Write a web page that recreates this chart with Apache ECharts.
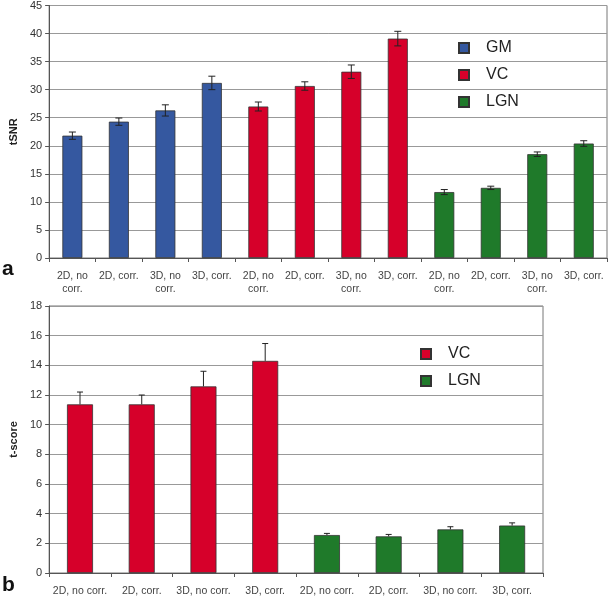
<!DOCTYPE html>
<html><head><meta charset="utf-8">
<script src="https://cdn.jsdelivr.net/npm/echarts@6/dist/echarts.min.js"></script>
<style>html,body{margin:0;padding:0;background:#fff}#c{width:608px;height:597px}</style>
</head><body><div id="c"></div>
<script>
// ---- data ----
const groupsTop = ['GM','VC','LGN'];
const condsTop = ['2D, no\ncorr.','2D, corr.','3D, no\ncorr.','3D, corr.'];
const gmSNR = [21.8, 24.3, 26.3, 31.2];
const gmSNRErr = [0.65, 0.65, 1.0, 1.2];
const vcSNR = [27.0, 30.65, 33.2, 39.1];
const vcSNRErr = [0.8, 0.75, 1.2, 1.3];
const lgnSNR = [11.75, 12.5, 18.5, 20.4];
const lgnSNRErr = [0.45, 0.3, 0.4, 0.5];

const groupsBot = ['VC','LGN'];
const condsBot = ['2D, no corr.','2D, corr.','3D, no corr.','3D, corr.'];
const vcT = [11.37, 11.37, 12.58, 14.3];
const vcTErr = [0.83, 0.63, 1.02, 1.17];
const lgnT = [2.56, 2.47, 2.94, 3.2];
const lgnTErr = [0.11, 0.13, 0.18, 0.18];

const colors = {GM:'#3558a0', VC:'#d6002a', LGN:'#1f7a2a'};

// ---- build ----
const topCats = [].concat(condsTop, condsTop, condsTop);
const botCats = [].concat(condsBot, condsBot);
function pad(arr, before, after){
  return Array(before).fill('-').concat(arr, Array(after).fill('-'));
}
const topVals = [gmSNR, vcSNR, lgnSNR];
const topErrs = [gmSNRErr, vcSNRErr, lgnSNRErr];
const botVals = [vcT, lgnT];
const botErrs = [vcTErr, lgnTErr];

const series = [];
groupsTop.forEach((g,i)=>{
  series.push({type:'bar', name:g, xAxisIndex:0, yAxisIndex:0, barWidth:20, barGap:'-100%',
    data: pad(topVals[i], i*4, (2-i)*4),
    itemStyle:{color:colors[g], borderColor:'#333', borderWidth:0.8}});
});
groupsBot.forEach((g,i)=>{
  series.push({type:'bar', name:g, xAxisIndex:1, yAxisIndex:1, barWidth:26, barGap:'-100%',
    data: pad(botVals[i], i*4, (1-i)*4),
    itemStyle:{color:colors[g], borderColor:'#333', borderWidth:0.8}});
});
// error bars
const errTop = [];
topVals.forEach((v,i)=>v.forEach((y,j)=>errTop.push([i*4+j, y, topErrs[i][j]])));
const errBot = [];
botVals.forEach((v,i)=>v.forEach((y,j)=>errBot.push([i*4+j, y, botErrs[i][j]])));
function errRender(both, cap){
  return function(params, api){
    const x = api.value(0), y = api.value(1), e = api.value(2);
    const hi = api.coord([x, y+e]);
    const lo = api.coord([x, both ? y-e : y]);
    const st = {stroke:'#222', lineWidth:1};
    return {type:'group', children:[
      {type:'line', shape:{x1:hi[0], y1:hi[1], x2:lo[0], y2:lo[1]}, style:st},
      {type:'line', shape:{x1:hi[0]-cap, y1:hi[1], x2:hi[0]+cap, y2:hi[1]}, style:st},
      both ? {type:'line', shape:{x1:lo[0]-cap, y1:lo[1], x2:lo[0]+cap, y2:lo[1]}, style:st} : {type:'group'}
    ]};
  };
}
series.push({type:'custom', xAxisIndex:0, yAxisIndex:0, data:errTop, renderItem:errRender(true,3.5), z:10, silent:true});
series.push({type:'custom', xAxisIndex:1, yAxisIndex:1, data:errBot, renderItem:errRender(false,3), z:10, silent:true});

const axisLabelStyle = {color:'#444', fontSize:10.5, fontFamily:'Liberation Sans Narrow, Liberation Sans, Arial'};
const yLabelStyle = {color:'#333', fontSize:11, fontFamily:'Liberation Sans, Arial'};

const chart = echarts.init(document.getElementById('c'), null, {renderer:'canvas'});
chart.setOption({
  animation:false,
  backgroundColor:'#fff',
  grid:[
    {left:47, top:4, right:1, height:254, show:true, borderColor:'#777', borderWidth:1},
    {left:47, top:306, right:65, height:269, show:true, borderColor:'#777', borderWidth:1}
  ],
  xAxis:[
    {type:'category', gridIndex:0, data:topCats,
      axisLine:{lineStyle:{color:'#555'}}, axisTick:{show:true, length:4, lineStyle:{color:'#555'}},
      axisLabel:Object.assign({interval:0, margin:12, lineHeight:13}, axisLabelStyle)},
    {type:'category', gridIndex:1, data:botCats,
      axisLine:{lineStyle:{color:'#555'}}, axisTick:{show:true, length:4, lineStyle:{color:'#555'}},
      axisLabel:Object.assign({interval:0, margin:13}, axisLabelStyle)}
  ],
  yAxis:[
    {type:'value', gridIndex:0, min:0, max:45, interval:5, name:'tSNR', nameLocation:'middle', nameGap:25,
      nameTextStyle:{fontWeight:'bold', fontSize:11, color:'#222', fontFamily:'Liberation Sans, Arial'},
      axisLine:{show:true, lineStyle:{color:'#555'}}, axisTick:{show:true, length:4, lineStyle:{color:'#555'}},
      splitLine:{lineStyle:{color:'#999'}}, axisLabel:Object.assign({margin:7}, yLabelStyle)},
    {type:'value', gridIndex:1, min:0, max:18, interval:2, name:'t-score', nameLocation:'middle', nameGap:25,
      nameTextStyle:{fontWeight:'bold', fontSize:11, color:'#222', fontFamily:'Liberation Sans, Arial'},
      axisLine:{show:true, lineStyle:{color:'#555'}}, axisTick:{show:true, length:4, lineStyle:{color:'#555'}},
      splitLine:{lineStyle:{color:'#999'}}, axisLabel:Object.assign({margin:7}, yLabelStyle)}
  ],
  legend:[
    {data:groupsTop, left:453, top:35, orient:'vertical', icon:'rect', itemWidth:10, itemHeight:10, itemGap:11,
      textStyle:{fontSize:16, color:'#222', fontFamily:'Liberation Sans, Arial', padding:[0,0,0,12]}, selectedMode:false},
    {data:groupsBot, left:415, top:341, orient:'vertical', icon:'rect', itemWidth:10, itemHeight:10, itemGap:11,
      textStyle:{fontSize:16, color:'#222', fontFamily:'Liberation Sans, Arial', padding:[0,0,0,12]}, selectedMode:false}
  ],
  graphic:[
    {type:'text', left:2, top:259, style:{text:'a', font:'bold 21px Liberation Sans, Arial', fill:'#111'}},
    {type:'text', left:2, top:575, style:{text:'b', font:'bold 21px Liberation Sans, Arial', fill:'#111'}}
  ],
  series:series
});
</script></body></html>
